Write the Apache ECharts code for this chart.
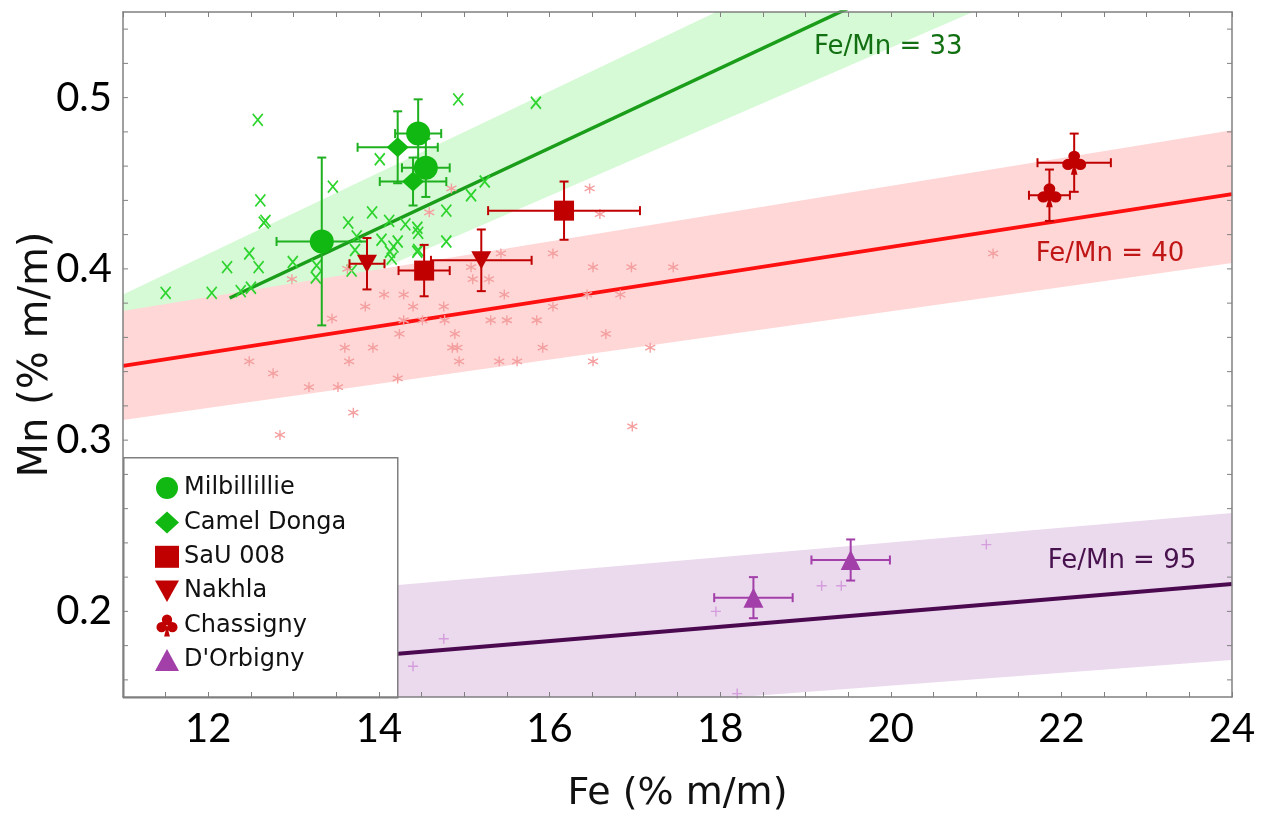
<!DOCTYPE html>
<html><head><meta charset="utf-8">
<script src="https://cdn.jsdelivr.net/npm/echarts@6/dist/echarts.min.js"></script>
<style>html,body{margin:0;padding:0;background:#fff}#c{width:1266px;height:819px}</style>
</head><body><div id="c"></div>
<script>
// ---- axes ----
const xRange = [11, 24];
const yRange = [0.15, 0.55];
const xTickLabels = [12, 14, 16, 18, 20, 22, 24];
const yTickLabels = [0.2, 0.3, 0.4, 0.5];
const yTickMarks = [0.16,0.18,0.20,0.22,0.24,0.26,0.28,0.30,0.32,0.34,0.36,0.38,0.40,0.42,0.44,0.46,0.48,0.50,0.52,0.54];

// ---- ratio bands (Fe at left/right edge, Mn lower / upper) ----
const bandFe = [11, 24];
const greenBandLow = [0.3345, 0.6157];
const greenBandHigh = [0.385, 0.6935];
const redBandLow = [0.3118, 0.4034];
const redBandHigh = [0.3754, 0.481];
const purpleBandLow = [0.123, 0.1716];
const purpleBandHigh = [0.2016, 0.2574];

// ---- ratio lines ----
const greenLine = [[12.25, 0.383], [19.6, 0.5545]];
const redLine = [[11, 0.3433], [24, 0.4437]];
const purpleLine = [[11, 0.1618], [24, 0.216]];

// ---- annotations ----
const ratioLabels = ['Fe/Mn = 33', 'Fe/Mn = 40', 'Fe/Mn = 95'];
const ratioLabelPos = [[19.97, 0.5296], [22.57, 0.4087], [22.71, 0.2294]];

// ---- literature data ----
const greenCross = [[11.50,0.386],[12.04,0.386],[12.22,0.401],[12.38,0.387],[12.50,0.389],[12.48,0.409],[12.59,0.401],[12.58,0.487],[12.61,0.440],[12.65,0.427],[12.67,0.428],[12.99,0.404],[13.26,0.395],[13.27,0.402],[13.46,0.448],[13.64,0.427],[13.68,0.399],[13.72,0.411],[13.74,0.419],[13.92,0.433],[14.01,0.464],[14.03,0.417],[14.12,0.428],[14.13,0.410],[14.15,0.406],[14.17,0.413],[14.22,0.416],[14.31,0.426],[14.45,0.424],[14.46,0.421],[14.45,0.410],[14.46,0.411],[14.79,0.434],[14.79,0.416],[14.93,0.499],[15.08,0.443],[15.24,0.451],[15.84,0.497]];
const redStar = [[12.48,0.346],[12.76,0.339],[12.84,0.303],[12.98,0.394],[13.18,0.331],[13.45,0.371],[13.52,0.331],[13.60,0.354],[13.63,0.400],[13.65,0.346],[13.70,0.316],[13.84,0.378],[13.93,0.354],[14.06,0.385],[14.22,0.336],[14.24,0.362],[14.29,0.385],[14.29,0.370],[14.40,0.378],[14.51,0.370],[14.59,0.433],[14.76,0.378],[14.77,0.370],[14.85,0.447],[14.86,0.354],[14.89,0.362],[14.92,0.354],[14.94,0.346],[15.08,0.401],[15.10,0.394],[15.29,0.394],[15.31,0.370],[15.41,0.346],[15.43,0.409],[15.47,0.385],[15.50,0.370],[15.62,0.346],[15.85,0.370],[15.92,0.354],[16.04,0.409],[16.04,0.378],[16.44,0.385],[16.47,0.447],[16.51,0.401],[16.51,0.346],[16.59,0.432],[16.66,0.362],[16.83,0.385],[16.96,0.401],[16.97,0.308],[17.18,0.354],[17.45,0.401],[21.20,0.409]];
const purplePlus = [[14.40,0.168],[14.76,0.184],[17.95,0.200],[18.20,0.152],[19.19,0.215],[19.42,0.215],[21.12,0.239]];

// ---- meteorites: [Fe, Mn], errors [dFe, dMn] ----
const milbillillie = [[13.33,0.416],[14.46,0.479],[14.55,0.459]];
const milbillillieErr = [[0.53,0.049],[0.27,0.020],[0.28,0.017]];
const camelDonga = [[14.22,0.471],[14.40,0.451]];
const camelDongaErr = [[0.47,0.021],[0.39,0.014]];
const sau008 = [[14.53,0.399],[16.17,0.434]];
const sau008Err = [[0.30,0.015],[0.89,0.017]];
const nakhla = [[13.86,0.403],[15.20,0.405]];
const nakhlaErr = [[0.205,0.015],[0.59,0.018]];
const chassigny = [[22.15,0.462],[21.86,0.443]];
const chassignyErr = [[0.43,0.017],[0.24,0.015]];
const dOrbigny = [[18.39,0.208],[19.53,0.230]];
const dOrbignyErr = [[0.46,0.012],[0.46,0.012]];

const legendNames = ['Milbillillie', 'Camel Donga', 'SaU 008', 'Nakhla', 'Chassigny', "D'Orbigny"];

const GREEN = '#12b812', GREEN_ERR = '#1fb01f', RED = '#c00000', PURPLE = '#a23fa9';
const CLUB = 'path://M27,25a23,23 0 1,0 46,0a23,23 0 1,0 -46,0z M3,58a23,23 0 1,0 46,0a23,23 0 1,0 -46,0z M51,58a23,23 0 1,0 46,0a23,23 0 1,0 -46,0z M50,50L37,100L63,100z';
const TRI_DOWN = 'path://M0,0L20,0L10,18z';
const XMARK = 'path://M0,0L10,12M10,0L0,12';
const STAR = 'path://M5,0L5,10M0.67,2.5L9.33,7.5M0.67,7.5L9.33,2.5';
const PLUS = 'path://M5,0L5,10M0,5L10,5';

// clip a pixel polygon to a rectangle (Sutherland-Hodgman)
function clipPoly(pts, r) {
  const edges = [
    p => p[0] >= r.x, p => p[0] <= r.x + r.width,
    p => p[1] >= r.y, p => p[1] <= r.y + r.height
  ];
  const inter = [
    (a,b) => { const t=(r.x-a[0])/(b[0]-a[0]); return [r.x, a[1]+t*(b[1]-a[1])]; },
    (a,b) => { const X=r.x+r.width, t=(X-a[0])/(b[0]-a[0]); return [X, a[1]+t*(b[1]-a[1])]; },
    (a,b) => { const t=(r.y-a[1])/(b[1]-a[1]); return [a[0]+t*(b[0]-a[0]), r.y]; },
    (a,b) => { const Y=r.y+r.height, t=(Y-a[1])/(b[1]-a[1]); return [a[0]+t*(b[0]-a[0]), Y]; }
  ];
  let out = pts;
  for (let e = 0; e < 4; e++) {
    const inp = out; out = [];
    for (let i = 0; i < inp.length; i++) {
      const cur = inp[i], prev = inp[(i + inp.length - 1) % inp.length];
      const ci = edges[e](cur), pi = edges[e](prev);
      if (ci) { if (!pi) out.push(inter[e](prev, cur)); out.push(cur); }
      else if (pi) out.push(inter[e](prev, cur));
    }
    if (!out.length) break;
  }
  return out;
}

function band(low, high, color) {
  return { type:'custom', silent:true, z:1,
    data: [[bandFe[0], low[0], high[0], bandFe[1], low[1], high[1]]],
    encode:{x:[0,3], y:[1,2,4,5]},
    renderItem: function(params, api) {
      const pts = [
        api.coord([api.value(0), api.value(1)]),
        api.coord([api.value(3), api.value(4)]),
        api.coord([api.value(3), api.value(5)]),
        api.coord([api.value(0), api.value(2)])
      ];
      const poly = clipPoly(pts, params.coordSys);
      return { type:'polygon', shape:{points:poly}, style:{fill:color} };
    }
  };
}
function ratioLine(data, color, w) {
  return { type:'line', data:data, symbol:'none', silent:true, z:2, lineStyle:{color:color, width:w} };
}
function rawMarks(data, path, size, color, w) {
  return { type:'scatter', data:data, symbol:path, symbolSize:size, silent:true, z:3,
    itemStyle:{color:'rgba(0,0,0,0)', borderColor:color, borderWidth:w, opacity:1} };
}
function errorBars(pts, errs, color) {
  return { type:'custom', silent:true, z:4,
    data: pts.map((p,i)=>[p[0], p[1], errs[i][0], errs[i][1]]),
    encode:{x:0, y:1},
    renderItem: function(params, api) {
      const x = api.value(0), y = api.value(1), ex = api.value(2), ey = api.value(3);
      const c = api.coord([x, y]);
      const l = api.coord([x-ex, y]), r = api.coord([x+ex, y]);
      const t = api.coord([x, y+ey]), b = api.coord([x, y-ey]);
      const cap = 4.5, st = {stroke:color, lineWidth:2};
      return { type:'group', children:[
        {type:'line', shape:{x1:l[0], y1:c[1], x2:r[0], y2:c[1]}, style:st},
        {type:'line', shape:{x1:l[0], y1:c[1]-cap, x2:l[0], y2:c[1]+cap}, style:st},
        {type:'line', shape:{x1:r[0], y1:c[1]-cap, x2:r[0], y2:c[1]+cap}, style:st},
        {type:'line', shape:{x1:c[0], y1:t[1], x2:c[0], y2:b[1]}, style:st},
        {type:'line', shape:{x1:c[0]-cap, y1:t[1], x2:c[0]+cap, y2:t[1]}, style:st},
        {type:'line', shape:{x1:c[0]-cap, y1:b[1], x2:c[0]+cap, y2:b[1]}, style:st}
      ]};
    }
  };
}
function sample(name, data, symbol, size, color) {
  return { type:'scatter', name:name, data:data, symbol:symbol, symbolSize:size,
    z:5, itemStyle:{color:color, opacity:1} };
}

const tickSeries = {
  type:'custom', silent:true, z:16,
  data: yTickMarks.map(v=>[xRange[0], v]),
  encode:{x:0, y:1},
  renderItem: function(params, api) {
    const v = api.value(1);
    const a = api.coord([xRange[0], v]), b = api.coord([xRange[1], v]);
    const st = {stroke:'#808080', lineWidth:1};
    return { type:'group', children:[
      {type:'line', shape:{x1:a[0], y1:a[1], x2:a[0]+5, y2:a[1]}, style:st},
      {type:'line', shape:{x1:b[0], y1:b[1], x2:b[0]-5, y2:b[1]}, style:st}
    ]};
  }
};

const annotSeries = {
  type:'scatter', silent:true, z:6, symbolSize:1,
  itemStyle:{color:'rgba(0,0,0,0)', opacity:1},
  data: ratioLabels.map((t,i)=>({value:ratioLabelPos[i], name:t,
    label:{color:['#127012','#c01616','#48124e'][i]}})),
  label:{show:true, position:'inside', formatter:'{b}', fontFamily:'DejaVu Sans', fontSize:26,
    opacity:1, textBorderWidth:0}
};

const axisLineStyle = {color:'#808080', width:1.5};
const option = {
  animation:false,
  backgroundColor:'#fff',
  grid:{left:123, right:34, top:12, bottom:122, containLabel:false},
  xAxis:[
    { type:'value', min:xRange[0], max:xRange[1], interval:1, position:'bottom', z:16,
      axisLine:{lineStyle:axisLineStyle}, splitLine:{show:false},
      axisTick:{inside:true, length:5, lineStyle:{color:'#808080'}},
      minorTick:{show:true, splitNumber:2, length:5, lineStyle:{color:'#808080'}},
      axisLabel:{margin:12, fontFamily:'Lato', fontSize:40, color:'#000',
        formatter:function(v){ const r = Math.round(v); return (Math.abs(v-r)<1e-6 && xTickLabels.indexOf(r)>=0) ? String(r) : ''; }},
      name:'Fe (% m/m)', nameLocation:'middle', nameGap:78, nameMoveOverlap:false,
      nameTextStyle:{fontFamily:'DejaVu Sans', fontSize:38, color:'#111'} },
    { type:'value', min:xRange[0], max:xRange[1], interval:1, position:'top', z:16,
      axisLine:{lineStyle:axisLineStyle}, splitLine:{show:false}, axisLabel:{show:false},
      axisTick:{inside:true, length:5, lineStyle:{color:'#808080'}},
      minorTick:{show:true, splitNumber:2, length:5, lineStyle:{color:'#808080'}} }
  ],
  yAxis:[
    { type:'value', min:yRange[0], max:yRange[1], interval:0.05, position:'left', z:16,
      axisLine:{lineStyle:axisLineStyle}, splitLine:{show:false}, axisTick:{show:false},
      axisLabel:{margin:11, fontFamily:'Lato', fontSize:40, color:'#000',
        formatter:function(v){ for (const t of yTickLabels) { if (Math.abs(v-t)<1e-6) return t.toFixed(1); } return ''; }},
      name:'Mn (% m/m)', nameLocation:'middle', nameGap:66, nameRotate:90, nameMoveOverlap:false,
      nameTextStyle:{fontFamily:'DejaVu Sans', fontSize:40, color:'#111'} },
    { type:'value', min:yRange[0], max:yRange[1], interval:0.05, position:'right', z:16,
      axisLine:{lineStyle:axisLineStyle}, splitLine:{show:false}, axisTick:{show:false}, axisLabel:{show:false} }
  ],
  legend:{
    data:legendNames, orient:'vertical', left:155, top:476, padding:0, z:20,
    itemWidth:24, itemHeight:22, itemGap:10.4, selectedMode:false,
    textStyle:{fontFamily:'DejaVu Sans', fontSize:24, lineHeight:24, color:'#111'}
  },
  graphic:[{ type:'rect', left:123, top:457, z:15, silent:true,
    shape:{width:274, height:240}, style:{fill:'#fff', stroke:'#7f7f7f', lineWidth:1.5} }],
  series:[
    band(greenBandLow, greenBandHigh, '#d6f9d6'),
    band(redBandLow, redBandHigh, '#ffd7d7'),
    band(purpleBandLow, purpleBandHigh, '#ebd9ee'),
    ratioLine(greenLine, '#1a9e1a', 3.5),
    ratioLine(redLine, '#ff1010', 3.8),
    ratioLine(purpleLine, '#4b0a50', 4),
    rawMarks(greenCross, XMARK, [10,12], '#2ed42e', 1.8),
    rawMarks(redStar, STAR, 10, '#f4a0a0', 1.4),
    rawMarks(purplePlus, PLUS, 10, '#d49ddb', 1.4),
    errorBars(milbillillie, milbillillieErr, GREEN_ERR),
    errorBars(camelDonga, camelDongaErr, GREEN_ERR),
    errorBars(sau008, sau008Err, RED),
    errorBars(nakhla, nakhlaErr, RED),
    errorBars(chassigny, chassignyErr, RED),
    errorBars(dOrbigny, dOrbignyErr, PURPLE),
    sample('Milbillillie', milbillillie, 'circle', 24, GREEN),
    sample('Camel Donga', camelDonga, 'diamond', [22,20], GREEN),
    sample('SaU 008', sau008, 'rect', 20, RED),
    sample('Nakhla', nakhla, TRI_DOWN, [20,18], RED),
    sample('Chassigny', chassigny, CLUB, [24,24], RED),
    sample("D'Orbigny", dOrbigny, 'triangle', [20,20], PURPLE),
    annotSeries,
    tickSeries
  ]
};
const chart = echarts.init(document.getElementById('c'));
chart.setOption(option);
</script>
</body></html>
